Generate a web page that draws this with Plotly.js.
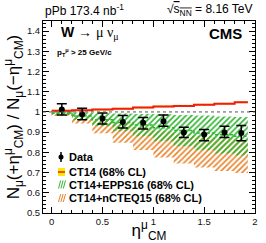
<!DOCTYPE html>
<html><head><meta charset="utf-8">
<script src="https://cdn.plot.ly/plotly-3.0.1.min.js"></script>
<style>html,body{margin:0;padding:0;background:#fff;}#chart{width:266px;height:243px;}</style>
</head><body><div id="chart"></div>
<script>
// ---- data ----
const binEdges = [0, 0.2, 0.4, 0.6, 0.8, 1.0, 1.2, 1.4, 1.6, 1.8, 1.93];
const dataEta = [0.1, 0.3, 0.5, 0.7, 0.9, 1.1, 1.3, 1.5, 1.7, 1.865];
const dataRatio = [1.012, 0.989, 0.967, 0.950, 0.946, 0.954, 0.898, 0.888, 0.898, 0.896];
const dataErrPlus = [0.028, 0.029, 0.028, 0.032, 0.026, 0.031, 0.026, 0.025, 0.031, 0.037];
const dataErrMinus = [0.027, 0.027, 0.027, 0.029, 0.030, 0.025, 0.025, 0.030, 0.025, 0.038];

const ct14Center = [1.006, 1.008, 1.012, 1.016, 1.022, 1.027, 1.030, 1.036, 1.040, 1.048];
const ct14Low = [1.001, 1.003, 1.007, 1.011, 1.017, 1.022, 1.025, 1.031, 1.035, 1.043];
const ct14High = [1.011, 1.013, 1.017, 1.021, 1.027, 1.032, 1.035, 1.041, 1.045, 1.053];

const epps16Center = [0.994, 0.980, 0.962, 0.948, 0.935, 0.922, 0.908, 0.896, 0.887, 0.880];
const epps16Low = [0.985, 0.962, 0.930, 0.905, 0.880, 0.855, 0.830, 0.810, 0.795, 0.785];
const epps16High = [1.003, 0.997, 0.994, 0.992, 0.990, 0.988, 0.985, 0.982, 0.978, 0.975];

const ncteq15Low = [0.980, 0.943, 0.895, 0.848, 0.812, 0.775, 0.745, 0.725, 0.708, 0.698];
const ncteq15High = [0.997, 0.985, 0.965, 0.945, 0.925, 0.905, 0.890, 0.880, 0.872, 0.865];

const legendNames = ['Data', 'CT14 (68% CL)', 'CT14+EPPS16 (68% CL)', 'CT14+nCTEQ15 (68% CL)'];
const xTicks = [0, 0.5, 1, 1.5, 2];

// ---- helpers ----
const W = 266, H = 243, ML = 43, MR = 11, MT = 21, MB = 30;
const PW = W - ML - MR, PH = H - MT - MB;
const px = x => (x - ML) / PW;
const py = y => (H - MB - y) / PH;
const step = v => v.concat([v[v.length - 1]]);

const GREEN = '#2fb52f', ORANGE = '#e8832a', YELLOW = '#ffe800', RED = '#ee1c1c';

function band(lo, hi, color, name) {
  return [
    {x: binEdges, y: step(lo), type: 'scatter', mode: 'lines', line: {width: 0, shape: 'hv'},
     showlegend: false, hoverinfo: 'skip', name: name + ' low'},
    {x: binEdges, y: step(hi), type: 'scatter', mode: 'lines', line: {width: 0, shape: 'hv'},
     fill: 'tonexty', fillcolor: 'rgba(0,0,0,0)',
     fillpattern: {shape: '/', fgcolor: color, bgcolor: 'rgba(0,0,0,0)', size: 4, solidity: 0.4},
     showlegend: false, name: name}
  ];
}

const traces = [];
traces.push(...band(ncteq15Low, ncteq15High, ORANGE, legendNames[3]));
traces.push(...band(epps16Low, epps16High, GREEN, legendNames[2]));
traces.push({x: binEdges, y: step(epps16Center), type: 'scatter', mode: 'lines',
  line: {color: GREEN, width: 1.5, dash: '3px,2px', shape: 'hv'}, showlegend: false});
traces.push({x: binEdges, y: step(ct14Low), type: 'scatter', mode: 'lines',
  line: {width: 0, shape: 'hv'}, showlegend: false});
traces.push({x: binEdges, y: step(ct14High), type: 'scatter', mode: 'lines',
  line: {width: 0, shape: 'hv'}, fill: 'tonexty', fillcolor: YELLOW, showlegend: false});
traces.push({x: binEdges, y: step(ct14Center), type: 'scatter', mode: 'lines',
  line: {color: RED, width: 2, shape: 'hv'}, showlegend: false, name: legendNames[1]});
traces.push({x: dataEta, y: dataRatio, type: 'scatter', mode: 'markers', name: legendNames[0],
  marker: {color: '#000', size: 6},
  error_y: {type: 'data', symmetric: false, array: dataErrPlus, arrayminus: dataErrMinus,
            color: '#000', thickness: 1.5, width: 5},
  showlegend: false});

// ---- legend (manual, compact as in the original) ----
const legRows = [157, 172, 184.5, 198];
const legFont = {family: 'Liberation Sans', size: 11, color: '#000'};
const annotations = legendNames.map((n, i) => ({
  text: '<b>' + n + '</b>', xref: 'paper', yref: 'paper', x: px(67), y: py(legRows[i]),
  xanchor: 'left', yanchor: 'middle', showarrow: false, font: legFont
}));

const shapes = [
  {type: 'line', xref: 'paper', yref: 'y', x0: 0, x1: 1, y0: 1, y1: 1,
   line: {color: '#555', width: 1, dash: 'dot'}},
  // Data icon
  {type: 'line', xref: 'paper', yref: 'paper', x0: px(61), x1: px(61), y0: py(152), y1: py(162), line: {color: '#000', width: 1.5}},
  {type: 'circle', xref: 'paper', yref: 'paper', x0: px(58.5), x1: px(63.5), y0: py(154.5), y1: py(159.5), fillcolor: '#000', line: {width: 0}},
  // CT14 icon
  {type: 'rect', xref: 'paper', yref: 'paper', x0: px(58), x1: px(65), y0: py(168), y1: py(176), fillcolor: YELLOW, line: {width: 0}},
  {type: 'line', xref: 'paper', yref: 'paper', x0: px(58), x1: px(65), y0: py(172), y1: py(172), line: {color: RED, width: 1.5}}
];
[[2, GREEN], [3, ORANGE]].forEach(([row, col]) => {
  for (let k = 0; k < 3; k++) {
    const x0 = 58.5 + k * 2.4, yc = legRows[row];
    shapes.push({type: 'line', xref: 'paper', yref: 'paper', x0: px(x0), x1: px(x0 + 2.2),
      y0: py(yc + 4), y1: py(yc - 4), line: {color: col, width: 1}});
  }
});

// ---- texts ----
annotations.push(
  {text: 'pPb 173.4 nb<sup>-1</sup>', xref: 'paper', yref: 'paper', x: 0, y: py(10), xanchor: 'left', yanchor: 'middle',
   showarrow: false, font: {family: 'Liberation Sans', size: 12, color: '#000'}},
  {text: '√<span style="text-decoration:overline">s<sub>NN</sub></span> = 8.16 TeV', xref: 'paper', yref: 'paper', x: 1, y: py(10), xanchor: 'right', yanchor: 'middle',
   showarrow: false, font: {family: 'Liberation Sans', size: 12, color: '#000'}},
  {text: '<b>W</b> → <span style="font-family:Liberation Serif">μ ν<sub>μ</sub></span>', xref: 'paper', yref: 'paper', x: px(59), y: py(33), xanchor: 'left', yanchor: 'middle',
   showarrow: false, font: {family: 'Liberation Sans', size: 14, color: '#000'}},
  {text: '<b>p<sub>T</sub><sup>μ</sup> > 25 GeV/c</b>', xref: 'paper', yref: 'paper', x: px(55), y: py(52), xanchor: 'left', yanchor: 'middle',
   showarrow: false, font: {family: 'Liberation Sans', size: 8, color: '#000'}},
  {text: '<b>CMS</b>', xref: 'paper', yref: 'paper', x: px(244), y: py(33), xanchor: 'right', yanchor: 'middle',
   showarrow: false, font: {family: 'Liberation Sans', size: 15, color: '#000'}}
);

const axisCommon = {
  showline: true, linecolor: '#000', linewidth: 1, mirror: 'ticks', ticks: 'inside',
  tickcolor: '#000', showgrid: false, zeroline: false,
  tickfont: {family: 'Liberation Sans', size: 9.5, color: '#111'}
};

const layout = {
  width: W, height: H, margin: {l: ML, r: MR, t: MT, b: MB, pad: 0},
  paper_bgcolor: '#fff', plot_bgcolor: '#fff', showlegend: false,
  xaxis: Object.assign({}, axisCommon, {
    range: [-0.085, 2.0], tickvals: xTicks, ticklen: 6,
    minor: {dtick: 0.1, ticklen: 3, ticks: 'inside', tickcolor: '#000', showgrid: false},
    title: {text: 'η<sup>μ</sup><sub>CM</sub>', font: {family: 'Liberation Sans', size: 17, color: '#000'}, standoff: 2}
  }),
  yaxis: Object.assign({}, axisCommon, {
    range: [0.5, 1.45], dtick: 0.1, tick0: 0.5, ticklen: 6,
    minor: {dtick: 0.02, ticklen: 3, ticks: 'inside', tickcolor: '#000', showgrid: false},
    title: {text: 'N<sub>μ</sub>(+η<sup>μ</sup><sub>CM</sub>) / N<sub>μ</sub>(−η<sup>μ</sup><sub>CM</sub>)',
            font: {family: 'Liberation Sans', size: 17, color: '#000'}, standoff: 2}
  }),
  annotations: annotations, shapes: shapes
};

Plotly.newPlot('chart', traces, layout, {displayModeBar: false, staticPlot: true});
</script></body></html>
